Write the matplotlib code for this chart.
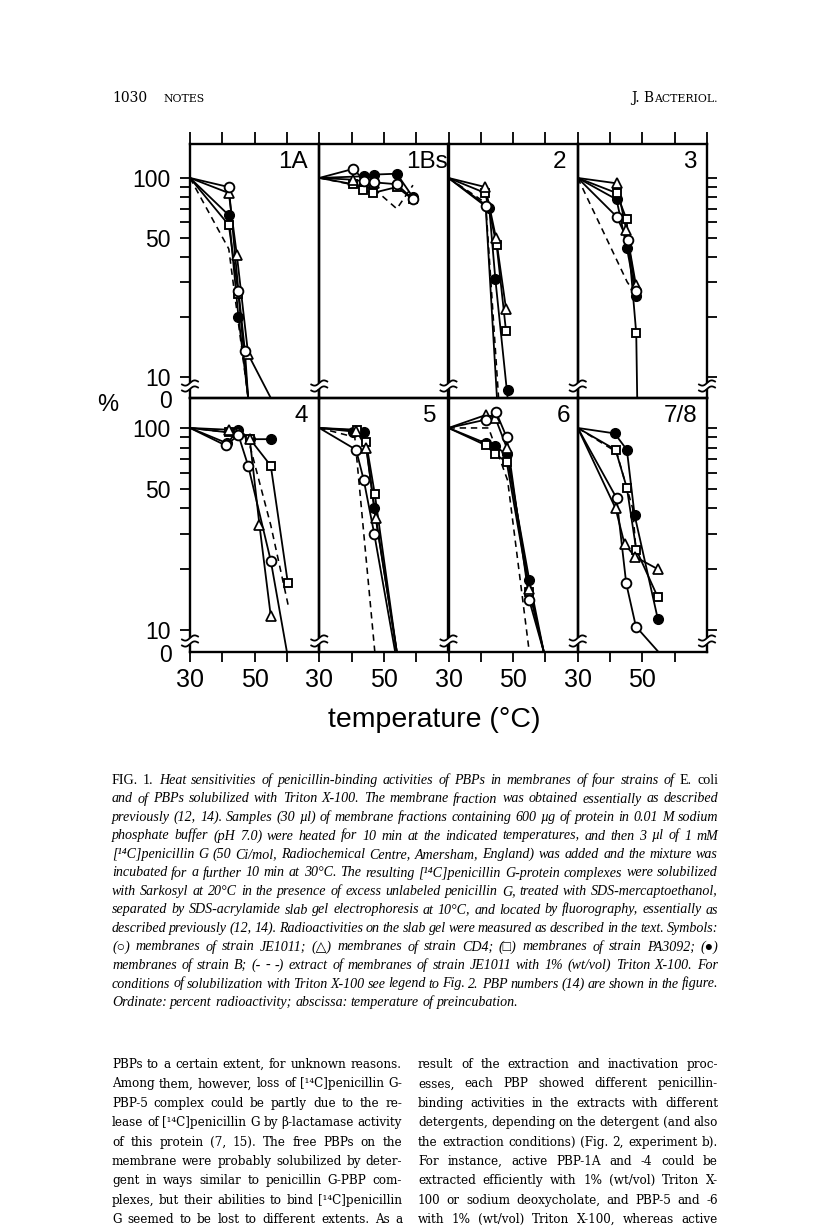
import numpy as np
import matplotlib
matplotlib.use("Agg")
import matplotlib.pyplot as plt
from matplotlib.lines import Line2D
from matplotlib.patches import Rectangle
from matplotlib.font_manager import FontProperties
from matplotlib.ticker import FixedLocator, FixedFormatter, NullLocator

plt.rcParams['font.family'] = ['Liberation Sans', 'DejaVu Sans']

FIG_W, FIG_H = 816, 1232

# ---------------- data (temperature degC, % radioactivity; 0 = none left) ----------------
TEMP_TICKS = [30, 40, 50, 60]
TEMP_LABELS = ["30", "", "50", ""]
Y_TICKS = [10, 20, 30, 40, 50, 60, 70, 80, 90, 100]
Y_LABELS = ["10", "", "", "", "50", "", "", "", "", "100"]
PANEL_NAMES = ["1A", "1Bs", "2", "3", "4", "5", "6", "7/8"]

P1A_CIRCLE   = ([30, 42, 45, 47, 48],        [100, 90, 27, 13.5, 0])
P1A_TRIANGLE = ([30, 42, 44.5, 48, 55],      [100, 84, 41, 13, 0])
P1A_SQUARE   = ([30, 42, 45, 48],            [100, 58, 26, 0])
P1A_FILLED   = ([30, 42, 45, 48],            [100, 65, 20, 0])
P1A_TRITON   = ([30, 42, 48],                [100, 44, 0])

P1B_CIRCLE   = ([30, 40.5, 44, 47, 54, 59],   [100, 111, 97, 95, 93, 78])
P1B_TRIANGLE = ([30, 40.5, 44, 47],           [100, 98, 96, 94])
P1B_SQUARE   = ([30, 40.5, 43.5, 46.5, 54, 59], [100, 93, 87, 84, 90, 78])
P1B_FILLED   = ([30, 44, 47, 54, 59],         [100, 102, 104, 105, 80])
P1B_TRITON   = ([30, 47, 54, 59],             [100, 88, 70, 92])

P2_CIRCLE    = ([30, 41.5, 45],               [100, 72, 0])
P2_TRIANGLE  = ([30, 41.4, 44.7, 47.8],       [100, 90, 50, 22])
P2_SQUARE    = ([30, 41.4, 44.9, 47.8],       [100, 84, 46, 17])
P2_FILLED    = ([30, 42.6, 44.5, 48.3],       [100, 71, 31, 0])
P2_TRITON    = ([30, 41.5, 45.5],             [100, 75, 0])
P2_FILLED_BOTTOM_MARK = True

P3_CIRCLE    = ([30, 42, 45.5, 48],           [100, 64, 48.6, 27])
P3_TRIANGLE  = ([30, 42, 45, 48],             [100, 94, 55, 29])
P3_SQUARE    = ([30, 42, 45.1, 48.1, 48.4],   [100, 84, 62, 16.6, 0])
P3_FILLED    = ([30, 42, 45.2, 48],           [100, 78, 44.5, 25.5])
P3_TRITON    = ([30, 45.3, 48],               [100, 30, 26])

P4_CIRCLE    = ([30, 41, 45, 48, 55, 60],     [100, 82, 92, 65, 22, 0])
P4_TRIANGLE  = ([30, 42, 45, 48.5, 51.5, 55], [100, 98, 96, 88, 33, 11.7])
P4_SQUARE    = ([30, 42, 45, 48.6, 55, 60.3], [100, 95, 94, 88, 65, 17])
P4_FILLED    = ([30, 41.5, 45, 48.6, 55],     [100, 84, 98, 88, 88])
P4_TRITON    = ([30, 42, 45, 48, 55, 60.5],   [100, 95, 93, 88, 33, 13])

P5_CIRCLE    = ([30, 41.4, 43.8, 47, 53.5],   [100, 78, 55, 30, 0])
P5_TRIANGLE  = ([30, 41.5, 44.5, 47.5, 54],   [100, 97, 80, 36, 0])
P5_SQUARE    = ([30, 41.6, 44.5, 47.2, 54],   [100, 98, 85, 47, 0])
P5_FILLED    = ([30, 40.5, 44, 47, 54],       [100, 96, 96, 40, 0])
P5_TRITON    = ([30, 41, 47.2],               [100, 90, 0])

P6_CIRCLE    = ([30, 41.6, 44.7, 48, 55, 59.5], [100, 110, 120, 90, 14, 0])
P6_TRIANGLE  = ([30, 41.6, 44.5, 48, 55, 59.5], [100, 116, 112, 80, 16, 0])
P6_SQUARE    = ([30, 41.6, 44.5, 48, 55, 59.5], [100, 82, 74, 68, 15.5, 0])
P6_FILLED    = ([30, 41.6, 44.5, 48, 55, 59.5], [100, 84, 81, 74, 17.7, 0])
P6_TRITON    = ([30, 42.4, 48.3, 55],           [100, 100, 55, 0])

P78_CIRCLE   = ([30, 42, 45, 48, 55],         [100, 45, 17, 10.4, 0])
P78_TRIANGLE = ([30, 41.7, 44.5, 47.8, 54.8], [100, 40, 26.6, 23, 20])
P78_SQUARE   = ([30, 41.7, 45.2, 48.1, 54.8], [100, 78, 50.5, 25, 14.5])
P78_FILLED   = ([30, 41.4, 45.2, 47.6, 54.8], [100, 94, 78, 37, 11.3])
P78_TRITON   = ([30, 42, 47, 48],             [100, 76, 40, 25])

PANELS = [
    (P1A_CIRCLE, P1A_TRIANGLE, P1A_SQUARE, P1A_FILLED, P1A_TRITON),
    (P1B_CIRCLE, P1B_TRIANGLE, P1B_SQUARE, P1B_FILLED, P1B_TRITON),
    (P2_CIRCLE, P2_TRIANGLE, P2_SQUARE, P2_FILLED, P2_TRITON),
    (P3_CIRCLE, P3_TRIANGLE, P3_SQUARE, P3_FILLED, P3_TRITON),
    (P4_CIRCLE, P4_TRIANGLE, P4_SQUARE, P4_FILLED, P4_TRITON),
    (P5_CIRCLE, P5_TRIANGLE, P5_SQUARE, P5_FILLED, P5_TRITON),
    (P6_CIRCLE, P6_TRIANGLE, P6_SQUARE, P6_FILLED, P6_TRITON),
    (P78_CIRCLE, P78_TRIANGLE, P78_SQUARE, P78_FILLED, P78_TRITON),
]

CAPTION = [
    "§FIG. §1. Heat sensitivities of penicillin-binding activities of PBPs in membranes of four strains of §E. §coli",
    "and of PBPs solubilized with Triton X-100. The membrane fraction was obtained essentially as described",
    "previously (12, 14). Samples (30 µl) of membrane fractions containing 600 µg of protein in 0.01 M sodium",
    "phosphate buffer (pH 7.0) were heated for 10 min at the indicated temperatures, and then 3 µl of 1 mM",
    "[¹⁴C]penicillin G (50 Ci/mol, Radiochemical Centre, Amersham, England) was added and the mixture was",
    "incubated for a further 10 min at 30°C. The resulting [¹⁴C]penicillin G-protein complexes were solubilized",
    "with Sarkosyl at 20°C in the presence of excess unlabeled penicillin G, treated with SDS-mercaptoethanol,",
    "separated by SDS-acrylamide slab gel electrophoresis at 10°C, and located by fluorography, essentially as",
    "described previously (12, 14). Radioactivities on the slab gel were measured as described in the text. Symbols:",
    "(○) membranes of strain JE1011; (△) membranes of strain CD4; (□) membranes of strain PA3092; (●)",
    "membranes of strain B; (- - -) extract of membranes of strain JE1011 with 1% (wt/vol) Triton X-100. For",
    "conditions of solubilization with Triton X-100 see legend to Fig. 2. PBP numbers (14) are shown in the figure.",
    "Ordinate: percent radioactivity; abscissa: temperature of preincubation.",
]

BODY_LEFT = [
    "PBPs to a certain extent, for unknown reasons.",
    "Among them, however, loss of [¹⁴C]penicillin G-",
    "PBP-5 complex could be partly due to the re-",
    "lease of [¹⁴C]penicillin G by β-lactamase activity",
    "of this protein (7, 15). The free PBPs on the",
    "membrane were probably solubilized by deter-",
    "gent in ways similar to penicillin G-PBP com-",
    "plexes, but their abilities to bind [¹⁴C]penicillin",
    "G seemed to be lost to different extents. As a",
]
BODY_RIGHT = [
    "result of the extraction and inactivation proc-",
    "esses, each PBP showed different penicillin-",
    "binding activities in the extracts with different",
    "detergents, depending on the detergent (and also",
    "the extraction conditions) (Fig. 2, experiment b).",
    "For instance, active PBP-1A and -4 could be",
    "extracted efficiently with 1% (wt/vol) Triton X-",
    "100 or sodium deoxycholate, and PBP-5 and -6",
    "with 1% (wt/vol) Triton X-100, whereas active",
]

# ---------------- layout ----------------
fig = plt.figure(figsize=(FIG_W / 100, FIG_H / 100), dpi=100)
fig.patch.set_facecolor('white')

LEFT, RIGHT = 190.0, 707.0
COLW = (RIGHT - LEFT) / 4
ROWS = [(144.0, 398.0, 7.84, 148.1), (398.0, 652.0, 7.78, 140.7)]
ZERO_LABEL_Y = [402, 656]
LABEL_OFF = [12, 1, 11, 10, 11, 11.5, 8, 10]

def fx(px):
    return px / FIG_W

def fy(py):
    return 1 - py / FIG_H

MSTYLE = [
    dict(marker='o', ms=7.0, mfc='white', mec='black', mew=1.35),  # circle
    dict(marker='^', ms=6.6, mfc='white', mec='black', mew=1.25),  # triangle
    dict(marker='s', ms=6.0, mfc='white', mec='black', mew=1.35),  # square
    dict(marker='o', ms=7.0, mfc='black', mec='black', mew=1.0),   # filled
]
MARK_ORDER = [3, 2, 1, 0]

for k, series in enumerate(PANELS):
    row, col = divmod(k, 4)
    y0, y1, ybot, ytop = ROWS[row]
    x0 = LEFT + col * COLW
    ax = fig.add_axes([fx(x0), fy(y1), fx(COLW), (y1 - y0) / FIG_H])
    ax.set_yscale('log')
    ax.set_xlim(30, 70)
    ax.set_ylim(ybot, ytop)
    ax.set_facecolor('none')
    for sp in ax.spines.values():
        sp.set_linewidth(1.7)

    for j, (xs, ys) in enumerate(series):
        xs = np.asarray(xs, float)
        ys = np.asarray(ys, float)
        yy = np.where(ys == 0, ybot, ys)
        if j == 4:
            ax.plot(xs, yy, color='black', lw=1.15, ls=(0, (4, 3)), zorder=2)
        else:
            ax.plot(xs, yy, color='black', lw=1.3, zorder=2)
    for zi, j in enumerate(MARK_ORDER):
        xs, ys = series[j]
        xs = np.asarray(xs, float)
        ys = np.asarray(ys, float)
        keep = (xs > 30) & (ys > 0)
        if k == 2 and j == 3 and P2_FILLED_BOTTOM_MARK:
            keep = keep | ((xs > 30) & (ys == 0))
        yy = np.where(ys == 0, ybot * 1.1, ys)
        ax.plot(xs[keep], yy[keep], ls='none', zorder=3 + zi, clip_on=False, **MSTYLE[j])

    if row == 0:
        ticks = TEMP_TICKS + ([70] if col == 3 else [])
        ax.set_xticks(ticks)
        ax.xaxis.set_ticks_position('top')
        ax.tick_params(axis='x', which='major', direction='out', length=9, width=1.3,
                       top=True, bottom=False, labeltop=False, labelbottom=False)
    else:
        ax.set_xticks(TEMP_TICKS)
        ax.set_xticklabels(TEMP_LABELS)
        ax.tick_params(axis='x', which='major', direction='out', length=7.5, width=1.3,
                       top=False, bottom=True, labelsize=18, pad=4)
    ax.xaxis.set_minor_locator(NullLocator())

    ax.yaxis.set_major_locator(FixedLocator(Y_TICKS))
    ax.yaxis.set_minor_locator(NullLocator())
    if col == 0:
        ax.yaxis.set_major_formatter(FixedFormatter(Y_LABELS))
        ax.tick_params(axis='y', which='major', direction='out', length=7.2, width=1.3,
                       left=True, right=False, labelleft=True, labelright=False,
                       labelsize=16.5, pad=7)
        fig.text(fx(LEFT - 18), fy(ZERO_LABEL_Y[row]), "0", ha='right', va='center',
                 fontsize=16.5)
    elif col == 3:
        ax.tick_params(axis='y', which='major', direction='out', length=7.2, width=1.3,
                       left=False, right=True, labelleft=False, labelright=False)
    else:
        ax.tick_params(axis='y', which='major', left=False, right=False,
                       labelleft=False, labelright=False)

    ax.text(1 - LABEL_OFF[k] / COLW, 1 - (17.5 if row == 0 else 18.0) / (y1 - y0),
            PANEL_NAMES[k], transform=ax.transAxes, ha='right', va='center', fontsize=17.5)

def break_mark(xc, yc):
    fig.add_artist(Rectangle((fx(xc - 3), fy(yc + 3)), fx(6), 6 / FIG_H,
                             transform=fig.transFigure, facecolor='white',
                             edgecolor='none', zorder=5))
    t = np.linspace(0, 1, 40)
    for dy in (-3.0, 3.0):
        xs = xc - 8 + 16 * t
        ys = yc + dy - 3.0 * (t - 0.5) + 1.8 * np.sin(2 * np.pi * t)
        fig.add_artist(Line2D(fx(xs), fy(ys), transform=fig.transFigure,
                              color='black', lw=1.3, zorder=6))

for c in range(5):
    xb = LEFT + c * COLW
    break_mark(xb, 386)
    break_mark(xb, 641)

fig.text(fx(108), fy(405), "%", ha='center', va='center', fontsize=17)
fig.text(fx(434), fy(720), "temperature (°C)", ha='center', va='center', fontsize=20.5)

# ---------------- page text ----------------
renderer = fig.canvas.get_renderer()

def measure(s, fp):
    t = fig.text(0, 0, s, fontproperties=fp)
    w = t.get_window_extent(renderer=renderer).width
    t.remove()
    return w

def fit_size(lines, family, style, target, slack, base=10.0):
    fp = FontProperties(family=family, style=style, size=base)
    nat = [measure(l.replace('§', ''), fp) for l in lines]
    return base * target * slack / float(np.median(nat))

def put_lines(lines, family, x0, x1, ybase0, dy, size, style, justify_last=False):
    fp_main = FontProperties(family=family, style=style, size=size)
    space = measure("a a", fp_main) - measure("aa", fp_main)
    min_gap = 0.16 * size * 100 / 72
    target = x1 - x0
    for i, line in enumerate(lines):
        words = line.split(' ')
        arts = []
        for w in words:
            st = style
            if w.startswith('§'):
                w = w[1:]
                st = 'normal'
            t = fig.text(0, 0, w, fontproperties=FontProperties(family=family, style=st, size=size),
                         ha='left', va='baseline')
            arts.append(t)
        widths = [t.get_window_extent(renderer=renderer).width for t in arts]
        n = len(words)
        need = sum(widths) + (n - 1) * min_gap
        if need > target:
            sc = (target - (n - 1) * min_gap) / sum(widths)
            for t in arts:
                t.set_fontsize(size * sc)
            widths = [t.get_window_extent(renderer=renderer).width for t in arts]
        last = (i == len(lines) - 1) and not justify_last
        if n > 1 and not last:
            gap = (target - sum(widths)) / (n - 1)
        else:
            gap = space
        x = x0
        yb = ybase0 + i * dy
        for t, wd in zip(arts, widths):
            t.set_position((fx(x), fy(yb)))
            x += wd + gap

CAP_FAMILY = ['Liberation Serif', 'DejaVu Serif', 'DejaVu Sans']
BODY_FAMILY = ['DejaVu Serif', 'DejaVu Sans']

cap_size = fit_size(CAPTION[:-1], CAP_FAMILY, 'italic', 718 - 112, 0.99)
put_lines(CAPTION, CAP_FAMILY, 112, 718, 784, 18.5, cap_size, 'italic')

body_size = min(fit_size(BODY_LEFT, BODY_FAMILY, 'normal', 402 - 112, 0.99),
                fit_size(BODY_RIGHT, BODY_FAMILY, 'normal', 718 - 418, 0.99))
put_lines(BODY_LEFT, BODY_FAMILY, 112, 402, 1068, 19.4, body_size, 'normal', justify_last=True)
put_lines(BODY_RIGHT, BODY_FAMILY, 418, 718, 1068, 19.4, body_size, 'normal', justify_last=True)

SERIF = ['DejaVu Serif', 'DejaVu Sans']
hfp = FontProperties(family=SERIF, size=10.0)
hsc = FontProperties(family=SERIF, size=7.8)
fig.text(fx(112), fy(102), "1030", fontproperties=hfp, ha='left', va='baseline')
fig.text(fx(163), fy(102), "NOTES", fontproperties=hsc, ha='left', va='baseline')
w_tail = measure("ACTERIOL.", hsc)
w_head = measure("J. B", hfp)
fig.text(fx(718 - w_tail), fy(102), "ACTERIOL.", fontproperties=hsc, ha='left', va='baseline')
fig.text(fx(718 - w_tail - w_head), fy(102), "J. B", fontproperties=hfp, ha='left', va='baseline')

fig.savefig("out.png", dpi=100, facecolor='white')
